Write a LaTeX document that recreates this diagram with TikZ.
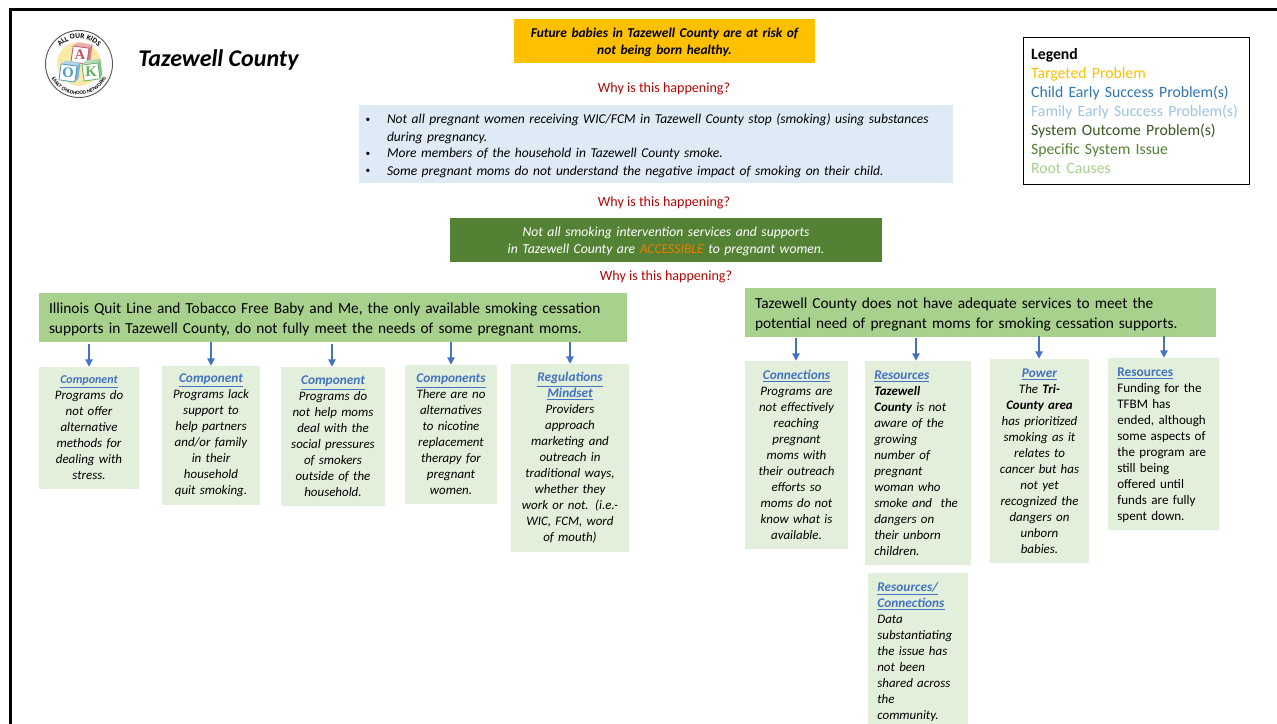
\documentclass[tikz,border=0pt]{standalone}
\usepackage{fontspec}
\setmainfont{Carlito}
\newfontfamily\logoserif{Liberation Serif}
\usetikzlibrary{arrows.meta,decorations.text}
\definecolor{targetc}{HTML}{FFC000}
\definecolor{childc}{HTML}{2E75B6}
\definecolor{familyc}{HTML}{9DC3E6}
\definecolor{outcomec}{HTML}{385723}
\definecolor{issuec}{HTML}{548235}
\definecolor{rootc}{HTML}{A9D18E}
\definecolor{leafc}{HTML}{E2EFDA}
\definecolor{bluebox}{HTML}{DEEAF6}
\definecolor{arrowc}{HTML}{4472C4}
\definecolor{whyc}{HTML}{C00000}
\definecolor{accessc}{HTML}{ED7D00}
\definecolor{blockred}{HTML}{C8505A}
\definecolor{blockblue}{HTML}{4A9BC8}
\definecolor{blockgreen}{HTML}{5FB060}
\definecolor{logoyellow}{HTML}{FBE9A8}
\newcommand{\placebox}[8][4]{%
  \pgfmathsetmacro{\bw}{(#5-#4)*0.75-2*#1}%
  \pgfmathsetmacro{\bh}{(#7-#6)*0.75}%
  \pgfmathsetmacro{\bx}{(#4+#5)/2}%
  \pgfmathsetmacro{\by}{(#6+#7)/2}%
  \node[#2,inner xsep=#1pt,inner ysep=0pt,text width=\bw pt,minimum height=\bh pt] (#3) at (\bx,\by) {#8};%
}
\newcommand{\lk}[1]{{\fontsize{10}{12}\selectfont\textcolor{arrowc}{\textbf{\underline{#1}}}}}
\newcommand{\lks}[1]{{\fontsize{9}{12}\selectfont\textcolor{arrowc}{\textbf{\underline{#1}}}}}
\newcommand{\blt}{\makebox[16pt][l]{\raisebox{1pt}{\fontsize{7}{7}\selectfont\textup{•}}}}
\tikzset{
  x=0.75pt,y=-0.75pt,
  toptext/.style={fill=targetc,align=center,font=\fontsize{10.1}{12.75}\selectfont\bfseries\itshape},
  listbox/.style={fill=bluebox,align=left,font=\fontsize{10.15}{12.9}\selectfont\itshape},
  issuebox/.style={fill=issuec,text=white,align=center,font=\fontsize{10.25}{12.75}\selectfont\itshape},
  rootbox/.style={fill=rootc,align=left,font=\fontsize{11.5}{14.5}\selectfont},
  leafbox/.style={fill=leafc,align=center,font=\fontsize{9.7}{12}\selectfont\itshape},
  leafleft/.style={fill=leafc,align=left,font=\fontsize{9.7}{12}\selectfont\itshape},
  leafplain/.style={fill=leafc,align=left,font=\fontsize{9.8}{12}\selectfont},
  legendbox/.style={draw=black,line width=0.75pt,fill=white,align=left,font=\fontsize{11.8}{14.3}\selectfont},
  why/.style={text=whyc,font=\fontsize{10.55}{12}\selectfont,inner sep=0pt},
  arr/.style={draw=arrowc,line width=0.9pt,-{Triangle[length=5.5pt,width=5.5pt]}},
  frameline/.style={line width=2.25pt,draw=black},
  titletext/.style={font=\fontsize{18}{22}\selectfont\bfseries\itshape,inner sep=0pt,anchor=west},
  blockletter/.style={font=\logoserif\fontsize{11}{11}\selectfont\bfseries,inner sep=0pt},
}
\begin{document}
\begin{tikzpicture}
\useasboundingbox (0,0) rectangle (1277,724);
\clip (0,0) rectangle (1277,724);
\fill[white] (0,0) rectangle (1277,724);
\draw[frameline] (10,730) -- (10,10) -- (1285,10);

% logo
\begin{scope}[shift={(79,64)},x=0.75pt,y=0.75pt]
  \draw[draw=black!65,line width=0.7pt,fill=white] (0,0) circle (33.5);
  \fill[logoyellow] (0,0) circle (22);
  \path[postaction={decorate},decoration={text along path,text align=center,
     text={|\fontsize{5.6}{6}\selectfont\bfseries|ALL OUR KIDS}}]
     (-25,4) arc (171:9:25.4);
  \path[postaction={decorate},decoration={text along path,text align=center,
     text={|\fontsize{3.9}{4}\selectfont\bfseries|EARLY CHILDHOOD NETWORKS}}]
     (-30.5,-3) arc (185:355:30.6);
  \foreach \cc/\px/\py/\ang/\letter in {blockred/1/9/-8/A,blockblue/-11/-9/-8/O,blockgreen/12/-8/8/K}{
    \begin{scope}[shift={(\px,\py)},rotate=\ang]
      \fill[\cc!45] (-8,8) -- (-4,12) -- (11,12) -- (8,8) -- cycle;
      \fill[\cc!75] (8,8) -- (11,12) -- (11,-4) -- (8,-8) -- cycle;
      \draw[\cc,line width=0.6pt,fill=white] (-8,-8) rectangle (8,8);
      \node[blockletter,text=\cc] at (0,0) {\letter};
    \end{scope}
  }
\end{scope}

\node[titletext] (title) at (138,60) {Tazewell County};

\placebox{toptext}{top}{514}{815}{19}{63}{\rule{0pt}{9.5pt}Future babies in Tazewell County are at risk of\\not being born healthy.}
\node[why] (why1) at (664,89) {Why is this happening?};
\placebox[5]{listbox}{list}{359}{953}{105}{183}{\rule{0pt}{10pt}\blt Not all pregnant women receiving WIC/FCM in Tazewell County stop (smoking) using substances\\[0.6pt]\hspace*{16pt}during pregnancy.\\[-1pt]\blt More members of the household in Tazewell County smoke.\\\blt Some pregnant moms do not understand the negative impact of smoking on their child.}
\node[why] (why2) at (664,203) {Why is this happening?};
\placebox{issuebox}{issue}{450}{882}{218}{262}{\rule{0pt}{10pt}Not all smoking intervention services and supports\\in Tazewell County are \textcolor{accessc}{ACCESSIBLE} to pregnant women.}
\node[why] (why3) at (666,277) {Why is this happening?};

\placebox[7.5]{rootbox}{rootA}{39}{627}{293}{342}{\rule{0pt}{11pt}Illinois Quit Line and Tobacco Free Baby and Me, the only available smoking cessation\\supports in Tazewell County, do not fully meet the needs of some pregnant moms.}
\placebox[7.5]{rootbox}{rootB}{745}{1216}{288}{337}{\rule{0pt}{11pt}Tazewell County does not have adequate services to meet the\\potential need of pregnant moms for smoking cessation supports.}

\placebox[1]{leafbox}{a1}{39}{139}{367}{489}{\lks{Component}\\Programs do\\not offer\\alternative\\methods for\\dealing with\\stress.}
\placebox[1]{leafbox}{a2}{162}{260}{366}{505}{\lk{Component}\\Programs lack\\support to\\help partners\\and/or family\\in their\\household\\quit smoking.}
\placebox[1]{leafbox}{a3}{281}{385}{367}{506}{\lk{Component}\\Programs do\\not help moms\\deal with the\\social pressures\\of smokers\\outside of the\\household.}
\placebox[1]{leafbox}{a4}{405}{497}{365}{504}{\lk{Components}\\There are no\\alternatives\\to nicotine\\replacement\\therapy for\\pregnant\\women.}
\placebox[1]{leafbox}{a5}{511}{629}{364}{552}{\lk{Regulations}\\\lk{Mindset}\\Providers\\approach\\marketing and\\outreach in\\traditional ways,\\whether they\\work or not. (i.e.-\\WIC, FCM, word\\of mouth)}

\placebox[1]{leafbox}{b1}{745}{848}{361}{549}{\lk{Connections}\\Programs are\\not effectively\\reaching\\pregnant\\moms with\\their outreach\\efforts so\\moms do not\\know what is\\available.}
\placebox[7]{leafleft}{b2}{865}{971}{361}{565}{\lk{Resources}\\\textbf{Tazewell}\\\textbf{County} is not\\aware of the\\growing\\number of\\pregnant\\woman who\\smoke and\ \ the\\dangers on\\their unborn\\children.}
\placebox[1]{leafbox}{b3}{990}{1089}{359}{563}{\lk{Power}\\The \textbf{Tri-}\\\textbf{County area}\\has prioritized\\smoking as it\\relates to\\cancer but has\\not yet\\recognized the\\dangers on\\unborn\\babies.}
\placebox[7]{leafplain}{b4}{1108}{1219}{358}{533}{{\upshape\lk{Resources}}\\Funding for the\\TFBM has\\ended, although\\some aspects of\\the program are\\still being\\offered until\\funds are fully\\spent down.}
\fill[white] (1108,530) rectangle (1219,534);
\placebox[7]{leafleft}{b5}{868}{968}{573}{731}{\lk{Resources/}\\\lk{Connections}\\Data\\substantiating\\the issue has\\not been\\shared across\\the\\community.}

\coordinate (sa1) at (89,344);
\coordinate (sa2) at (211,342);
\coordinate (sa3) at (332,344);
\coordinate (sa4) at (451,342);
\coordinate (sa5) at (570,342);
\coordinate (sb1) at (796,338);
\coordinate (sb2) at (916,338);
\coordinate (sb3) at (1039,336);
\coordinate (sb4) at (1164,336);
\foreach \n in {a1,a2,a3,a4,a5,b1,b2,b3,b4}{
  \draw[arr] (s\n) -- (s\n |- \n.north);
}

\node[legendbox,inner xsep=5.5pt,inner ysep=0pt,text width=158pt,minimum height=109.5pt] (legend) at (1136.5,111) {\textbf{Legend}\\\textcolor{targetc}{Targeted Problem}\\\textcolor{childc}{Child Early Success Problem(s)}\\\textcolor{familyc}{Family Early Success Problem(s)}\\\textcolor{outcomec}{System Outcome Problem(s)}\\\textcolor{issuec}{Specific System Issue}\\\textcolor{rootc}{Root Causes}};
\end{tikzpicture}
\end{document}
